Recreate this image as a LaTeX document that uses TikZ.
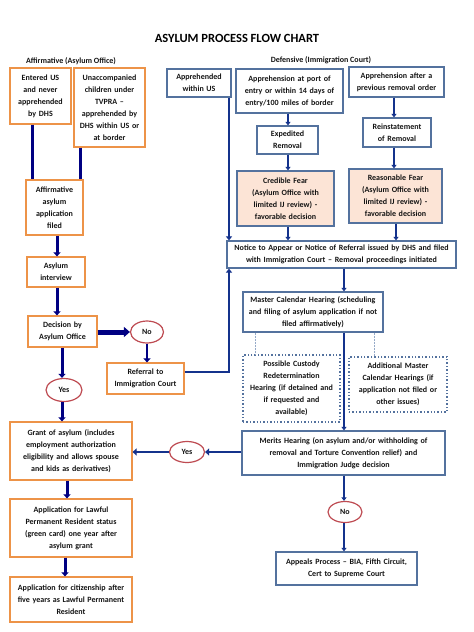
\documentclass[tikz,border=0pt]{standalone}
\usepackage{fontspec}
\setmainfont{Carlito}
\usetikzlibrary{arrows.meta,shapes.geometric}
\definecolor{orangeB}{RGB}{237,147,72}
\definecolor{blueB}{RGB}{84,114,158}
\definecolor{ovalB}{RGB}{190,75,82}
\definecolor{fillP}{RGB}{252,228,214}
\definecolor{navyA}{RGB}{0,0,130}
\definecolor{navyB}{RGB}{20,50,140}
\definecolor{dotL}{RGB}{150,170,200}
\definecolor{txt}{RGB}{20,20,20}
\newcommand\mybox[7]{%
  \pgfmathsetmacro\mbcx{(#3+#5)/2}\pgfmathsetmacro\mbcy{(#4+#6)/2}%
  \pgfmathsetmacro\mbw{#5-#3}\pgfmathsetmacro\mbh{#6-#4}\pgfmathsetmacro\mbtw{#5-#3-3}%
  \node[#2, minimum width=\mbw pt, minimum height=\mbh pt, text width=\mbtw pt] (#1) at (\mbcx,\mbcy) {#7};}
\begin{document}
\begin{tikzpicture}[x=1pt,y=-1pt,
  every node/.style={font=\fontsize{8}{12}\selectfont\bfseries, text=txt, align=center, inner sep=0.5pt},
  obox/.style={draw=orangeB, line width=1.2pt, fill=white},
  bbox/.style={draw=blueB, line width=1.2pt, fill=white},
  pbox/.style={draw=blueB, line width=1.2pt, fill=fillP},
  dbox/.style={draw=blueB, line width=1.3pt, dash pattern=on 1.4pt off 2pt, fill=white},
  oval/.style={ellipse, draw=ovalB, line width=1.2pt, fill=white, inner sep=0pt},
  aline/.style={draw=navyA, line width=3pt},
  aarrow/.style={aline, -{Triangle[length=4pt,width=7pt]}},
  barrow/.style={draw=navyB, line width=1.8pt, -{Triangle[length=3.5pt,width=5pt]}},
  bthick/.style={draw=navyB, line width=2.6pt},
  dotline/.style={draw=dotL, line width=1pt, dash pattern=on 2pt off 1pt}]
\useasboundingbox (0,0) rectangle (474,632);
\fill[white] (0,0) rectangle (474,632);

\node[font=\fontsize{12.5}{14}\selectfont\bfseries, text=black] (title) at (237,38) {ASYLUM PROCESS FLOW CHART};
\node (affl) at (71,61) {Affirmative (Asylum Office)};
\node (defl) at (321,60) {Defensive (Immigration Court)};

% Affirmative column
\mybox{e1}{obox}{10}{68}{71}{124}{Entered US\\and never\\apprehended\\by DHS}
\mybox{e2}{obox}{74}{68}{145}{147}{Unaccompanied\\children under\\TVPRA --\\apprehended by\\DHS within US or\\at border}
\mybox{aff}{obox}{26}{180}{83}{235}{Affirmative\\asylum\\application\\filed}
\mybox{intv}{obox}{27}{257}{85}{287}{Asylum\\interview}
\mybox{dec}{obox}{28}{316}{97}{347}{Decision by\\Asylum Office}
\node[oval, minimum width=33pt, minimum height=22pt] (noA) at (147,332) {No};
\mybox{ref}{obox}{107}{363}{184}{394}{Referral to\\Immigration Court}
\node[oval, minimum width=36pt, minimum height=23pt] (yesA) at (64,390) {Yes};
\mybox{grant}{obox}{10}{422}{132}{480}{Grant of asylum (includes\\employment authorization\\eligibility and allows spouse\\and kids as derivatives)}
\mybox{lpr}{obox}{10}{499}{132}{557}{Application for Lawful\\Permanent Resident status\\(green card) one year after\\asylum grant}
\mybox{cit}{obox}{10}{577}{132}{622}{Application for citizenship after\\five years as Lawful Permanent\\Resident}

% Defensive column
\mybox{d1}{bbox}{167}{69}{231}{97}{Apprehended\\within US}
\mybox{d2}{bbox}{236}{69}{343}{113}{Apprehension at port of\\entry or within 14 days of\\entry/100 miles of border}
\mybox{d3}{bbox}{349}{67}{444}{97}{Apprehension after a\\previous removal order}
\mybox{exp}{bbox}{257}{126}{318}{154}{Expedited\\Removal}
\mybox{rein}{bbox}{363}{118}{431}{147}{Reinstatement\\of Removal}
\mybox{cred}{pbox}{237}{171}{334}{226}{Credible Fear\\(Asylum Office with\\limited IJ review) -\\favorable decision}
\mybox{reas}{pbox}{349}{169}{442}{223}{Reasonable Fear\\(Asylum Office with\\limited IJ review) -\\favorable decision}
\mybox{notice}{bbox}{227}{241}{456}{268}{Notice to Appear or Notice of Referral issued by DHS and filed\\with Immigration Court -- Removal proceedings initiated}
\mybox{master}{bbox}{243}{292}{383}{332}{Master Calendar Hearing (scheduling\\and filing of asylum application if not\\filed affirmatively)}
\mybox{cust}{dbox}{243}{355}{340}{422}{Possible Custody\\Redetermination\\Hearing (if detained and\\if requested and\\available)}
\mybox{addl}{dbox}{349}{357}{447}{412}{Additional Master\\Calendar Hearings (if\\application not filed or\\other issues)}
\mybox{merits}{bbox}{242}{431}{445}{475}{Merits Hearing (on asylum and/or withholding of\\removal and Torture Convention relief) and\\Immigration Judge decision}
\node[oval, minimum width=35pt, minimum height=21pt] (yesD) at (187,452) {Yes};
\node[oval, minimum width=34pt, minimum height=21pt] (noD) at (345,512) {No};
\mybox{app}{bbox}{276}{552}{417}{585}{Appeals Process -- BIA, Fifth Circuit,\\Cert to Supreme Court}

% column coordinates
\coordinate (k32) at (32,0);
\coordinate (k80) at (80,0);
\coordinate (k57) at (57,0);
\coordinate (k62) at (62,0);
\coordinate (k67) at (67,0);
\coordinate (k65) at (65,0);
\coordinate (k147) at (147,0);
\coordinate (k229) at (229,0);
\coordinate (k288) at (288,0);
\coordinate (k394) at (394,0);
\coordinate (k396) at (396,0);
\coordinate (k344) at (344,0);
\coordinate (k255) at (255,0);
\coordinate (k374) at (374,0);
\coordinate (r332) at (0,332);
\coordinate (r372) at (0,372);
\coordinate (r452) at (0,452);

% Affirmative connectors
\draw[aline] (k32 |- e1.south) -- (k32 |- aff.north);
\draw[aline] (k80 |- e2.south) -- (k80 |- aff.north);
\draw[aarrow] (k57 |- aff.south) -- (k57 |- intv.north);
\draw[aarrow] (k57 |- intv.south) -- (k57 |- dec.north);
\draw[draw=navyA, line width=5pt, -{Triangle[length=6pt,width=10pt]}] (dec.east |- r332) -- (noA.west |- r332);
\draw[aarrow, line width=2.4pt] (noA.south) -- (k147 |- ref.north);
\draw[aarrow] (k62 |- dec.south) -- (yesA.north -| k62);
\draw[aarrow] (yesA.south -| k62) -- (k62 |- grant.north);
\draw[aarrow] (k67 |- grant.south) -- (k67 |- lpr.north);
\draw[aarrow] (k65 |- lpr.south) -- (k65 |- cit.north);
\draw[bthick, -{Triangle[length=4pt,width=6pt]}] (ref.east |- r372) -- (k229 |- r372) -- (k229 |- notice.south);

% Defensive connectors
\draw[bthick, -{Triangle[length=4pt,width=6pt]}] (k229 |- d1.south) -- (k229 |- notice.north);
\draw[barrow] (k288 |- d2.south) -- (k288 |- exp.north);
\draw[barrow] (k288 |- exp.south) -- (k288 |- cred.north);
\draw[barrow] (k394 |- d3.south) -- (k394 |- rein.north);
\draw[barrow] (k394 |- rein.south) -- (k394 |- reas.north);
\draw[barrow] (k288 |- cred.south) -- (k288 |- notice.north);
\draw[barrow] (k396 |- reas.south) -- (k396 |- notice.north);
\draw[barrow] (k344 |- notice.south) -- (k344 |- master.north);
\draw[barrow] (k344 |- master.south) -- (k344 |- merits.north);
\draw[dotline] (k255 |- master.south) -- (k255 |- cust.north);
\draw[dotline] (k374 |- master.south) -- (k374 |- addl.north);
\draw[aarrow, draw=navyB, line width=2.6pt] (merits.west |- r452) -- (yesD.east);
\draw[aarrow, draw=navyB, line width=2.6pt] (yesD.west) -- (grant.east |- r452);
\draw[barrow] (k344 |- merits.south) -- (noD.north -| k344);
\draw[barrow] (noD.south -| k344) -- (k344 |- app.north);
\end{tikzpicture}
\end{document}
